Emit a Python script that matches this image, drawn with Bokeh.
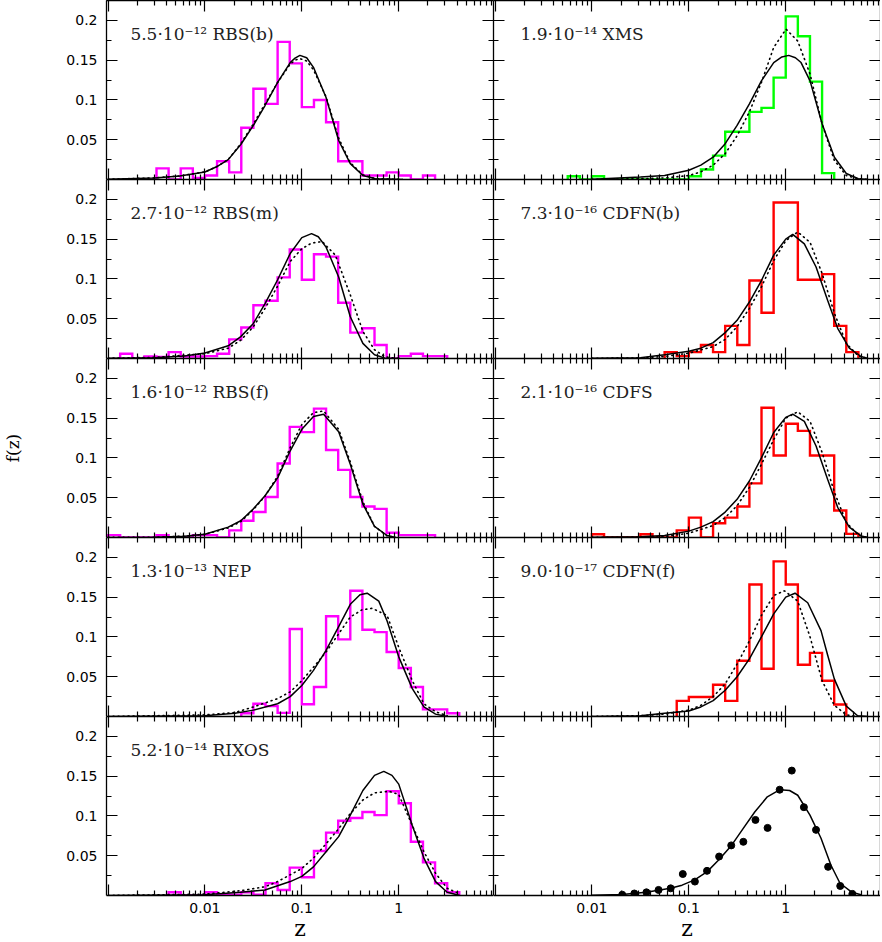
import numpy as np
from bokeh.plotting import figure
from bokeh.layouts import gridplot
from bokeh.models import (FixedTicker, LinearAxis, LogAxis, Label, Range1d,
                          CustomJSTickFormatter)
from bokeh.embed import file_html
from bokeh.resources import INLINE

# ---------------- data ----------------
BIN_DEX = 0.125          # histogram bin width in log10(z)

# Histograms: first bin lower edge (log10 z) and fraction per bin
rbsb_start = -2.5
rbsb_hist = [0.014, 0, 0.014, 0.002, 0.005, 0.023, 0.009, 0.065, 0.114, 0.095, 0.173,
             0.146, 0.091, 0.1, 0.072, 0.023, 0.023, 0.005, 0.005, 0.009, 0.005, 0, 0.005]
rbsm_start = -2.875
rbsm_hist = [0.006, 0, 0.0025, 0.002, 0.008, 0.0025, 0.0025, 0.003, 0.006, 0.024, 0.039,
             0.067, 0.0725, 0.102, 0.137, 0.099, 0.131, 0.128, 0.07, 0.0325, 0.038, 0.017,
             0, 0.003, 0.006, 0.003, 0.003]
rbsf_start = -3.0
rbsf_hist = [0.003, 0, 0, 0, 0.003, 0, 0, 0.003, 0.003, 0, 0.009, 0.021, 0.032, 0.051,
             0.093, 0.139, 0.1325, 0.162, 0.11, 0.085, 0.051, 0.039, 0.036, 0.006, 0.003,
             0.003, 0.003]
nep_start = -1.625
nep_hist = [0.004, 0.016, 0.013, 0.0046, 0.11, 0.0154, 0.037, 0.126, 0.097, 0.158, 0.109,
            0.106, 0.081, 0.061, 0.037, 0.009, 0.009, 0.004]
rixos_start = -2.375
rixos_hist = [0.004, 0, 0, 0.004, 0.001, 0.001, 0.004, 0.001, 0.0154, 0.007, 0.035, 0.023,
              0.056, 0.079, 0.094, 0.0975, 0.105, 0.101, 0.131, 0.116, 0.0675, 0.0417,
              0.0154, 0.004]
xms_start = -2.25
xms_hist = [0.004, 0, 0.004, 0, 0, 0, 0, 0, 0, 0, 0.004, 0.0125, 0.03, 0.06, 0.06, 0.085,
            0.09, 0.128, 0.205, 0.18, 0.123, 0.008]
cdfnb_start = -1.25
cdfnb_hist = [0.008, 0.003, 0.008, 0.017, 0.008, 0.041, 0.017, 0.098, 0.0575, 0.196, 0.196,
              0.099, 0.099, 0.106, 0.041, 0.008]
cdfs_start = -2.0
cdfs_hist = [0.004, 0, 0, 0, 0.004, 0, 0, 0.009, 0.025, 0, 0.018, 0.025, 0.039, 0.068,
             0.163, 0.103, 0.143, 0.134, 0.103, 0.103, 0.034, 0.0046]
cdfnf_start = -1.125
cdfnf_hist = [0.0196, 0.0246, 0.0246, 0.04, 0.0196, 0.07, 0.166, 0.06, 0.195, 0.166, 0.065,
              0.08, 0.045, 0.015]

# Model curves (log10 z, f) - solid and dotted
rbsb_solid_lz = [-3.0, -2.52, -2.26, -2.0, -1.88, -1.76, -1.63, -1.5, -1.38, -1.25, -1.12,
                 -1.07, -1.02, -0.95, -0.88, -0.75, -0.62, -0.5, -0.37, -0.24, 0.04]
rbsb_solid_f = [0.0003, 0.002, 0.0045, 0.0095, 0.016, 0.025, 0.044, 0.068, 0.093, 0.122,
                0.147, 0.1525, 0.156, 0.153, 0.141, 0.103, 0.049, 0.02, 0.005, 0.001, 0.0]
rbsb_dot_lz = [-3.0, -2.52, -2.26, -2.0, -1.88, -1.76, -1.63, -1.5, -1.38, -1.25, -1.12,
               -1.07, -1.02, -0.95, -0.88, -0.75, -0.62, -0.5, -0.37, -0.24, 0.04]
rbsb_dot_f = [0.0003, 0.002, 0.0045, 0.0095, 0.016, 0.025, 0.045, 0.07, 0.095, 0.122, 0.145,
              0.15, 0.152, 0.149, 0.138, 0.104, 0.052, 0.021, 0.006, 0.001, 0.0]

rbsm_solid_lz = [-3.0, -2.52, -2.21, -2.0, -1.76, -1.63, -1.5, -1.38, -1.25, -1.12, -1.0,
                 -0.9, -0.83, -0.75, -0.62, -0.5, -0.37, -0.25, -0.14, 0.0]
rbsm_solid_f = [0.0003, 0.001, 0.003, 0.007, 0.016, 0.0275, 0.044, 0.069, 0.099, 0.132,
                0.152, 0.157, 0.153, 0.14, 0.1025, 0.0525, 0.019, 0.0046, 0.0004, 0.0]
rbsm_dot_lz = [-3.0, -2.5, -2.0, -1.76, -1.63, -1.5, -1.38, -1.25, -1.12, -1.0, -0.9, -0.79,
               -0.655, -0.5, -0.37, -0.25, -0.14, 0.0]
rbsm_dot_f = [0.0003, 0.0015, 0.006, 0.013, 0.023, 0.04, 0.063, 0.091, 0.122, 0.138, 0.145,
              0.147, 0.13, 0.08, 0.034, 0.011, 0.002, 0.0]

rbsf_solid_lz = [-3.0, -2.52, -2.21, -2.0, -1.76, -1.63, -1.5, -1.38, -1.25, -1.12, -1.0,
                 -0.88, -0.775, -0.62, -0.5, -0.37, -0.25, -0.12, -0.03]
rbsf_solid_f = [0.0001, 0.0004, 0.0017, 0.004, 0.013, 0.021, 0.036, 0.0525, 0.075, 0.109,
                0.136, 0.152, 0.155, 0.133, 0.092, 0.042, 0.014, 0.0025, 0.0]
rbsf_dot_lz = [-3.0, -2.52, -2.21, -2.0, -1.76, -1.63, -1.5, -1.38, -1.25, -1.12, -1.0,
               -0.88, -0.775, -0.62, -0.5, -0.37, -0.25, -0.12, -0.03]
rbsf_dot_f = [0.0001, 0.0004, 0.0017, 0.004, 0.012, 0.02, 0.035, 0.052, 0.077, 0.113, 0.142,
              0.157, 0.159, 0.136, 0.095, 0.045, 0.014, 0.002, 0.0]

nep_solid_lz = [-3.0, -2.0, -1.69, -1.5, -1.25, -1.12, -1.0, -0.88, -0.75, -0.62, -0.5,
                -0.4, -0.326, -0.206, -0.12, 0.0, 0.14, 0.26, 0.38, 0.5]
nep_solid_f = [0.0, 0.001, 0.004, 0.008, 0.016, 0.025, 0.039, 0.058, 0.083, 0.113, 0.141,
               0.153, 0.155, 0.145, 0.12, 0.075, 0.035, 0.012, 0.003, 0.0]
nep_dot_lz = [-3.0, -2.0, -1.69, -1.5, -1.25, -1.12, -1.0, -0.88, -0.75, -0.62, -0.5, -0.38,
              -0.275, -0.12, 0.0, 0.14, 0.26, 0.38, 0.5]
nep_dot_f = [0.0, 0.002, 0.005, 0.012, 0.0225, 0.031, 0.045, 0.062, 0.081, 0.104, 0.125,
             0.134, 0.136, 0.127, 0.087, 0.045, 0.016, 0.006, 0.001]

rixos_solid_lz = [-3.0, -2.0, -1.63, -1.38, -1.12, -1.0, -0.88, -0.75, -0.62, -0.5, -0.37,
                  -0.25, -0.154, -0.07, 0.0, 0.14, 0.26, 0.38, 0.5, 0.63]
rixos_solid_f = [0.0, 0.001, 0.004, 0.007, 0.0175, 0.024, 0.036, 0.055, 0.074, 0.101, 0.132,
                 0.151, 0.156, 0.151, 0.14, 0.088, 0.047, 0.0175, 0.004, 0.0]
rixos_dot_lz = [-3.0, -2.0, -1.63, -1.38, -1.25, -1.12, -1.0, -0.88, -0.75, -0.62, -0.5,
                -0.37, -0.25, -0.10, 0.0, 0.14, 0.26, 0.38, 0.5, 0.63]
rixos_dot_f = [0.0, 0.0017, 0.006, 0.011, 0.0175, 0.026, 0.034, 0.047, 0.065, 0.084, 0.103,
               0.12, 0.129, 0.131, 0.127, 0.088, 0.055, 0.028, 0.009, 0.002]

xms_solid_lz = [-2.0, -1.5, -1.25, -1.0, -0.876, -0.749, -0.625, -0.502, -0.375, -0.251,
                -0.124, -0.04, 0.031, 0.1, 0.158, 0.251, 0.375, 0.502, 0.625, 0.749, 0.85]
xms_solid_f = [0.0004, 0.003, 0.005, 0.0117, 0.018, 0.028, 0.045, 0.068, 0.095, 0.124,
               0.147, 0.154, 0.156, 0.153, 0.147, 0.124, 0.07, 0.028, 0.0075, 0.001, 0.0]
xms_dot_lz = [-2.0, -1.5, -1.25, -1.0, -0.876, -0.749, -0.625, -0.502, -0.375, -0.251,
              -0.124, 0.003, 0.124, 0.251, 0.375, 0.502, 0.625, 0.749, 0.85]
xms_dot_f = [0.0002, 0.001, 0.002, 0.005, 0.0096, 0.018, 0.0325, 0.055, 0.085, 0.122, 0.166,
             0.189, 0.174, 0.1325, 0.07, 0.024, 0.005, 0.001, 0.0]

cdfnb_solid_lz = [-2.0, -1.5, -1.25, -1.0, -0.876, -0.749, -0.625, -0.502, -0.375, -0.251,
                  -0.124, 0.0, 0.072, 0.192, 0.313, 0.433, 0.536, 0.656, 0.777, 0.85]
cdfnb_solid_f = [0.0003, 0.001, 0.0046, 0.009, 0.013, 0.02, 0.0325, 0.048, 0.071, 0.098,
                 0.13, 0.15, 0.156, 0.144, 0.115, 0.073, 0.038, 0.013, 0.0025, 0.0]
cdfnb_dot_lz = [-2.0, -1.5, -1.25, -1.0, -0.749, -0.625, -0.502, -0.375, -0.251, -0.124,
                0.0, 0.124, 0.251, 0.375, 0.502, 0.625, 0.749, 0.85]
cdfnb_dot_f = [0.0002, 0.0008, 0.0025, 0.0067, 0.015, 0.024, 0.04, 0.063, 0.09, 0.123,
               0.148, 0.159, 0.146, 0.107, 0.057, 0.019, 0.003, 0.0]

cdfs_solid_lz = [-2.0, -1.5, -1.25, -1.0, -0.876, -0.749, -0.625, -0.502, -0.375, -0.251,
                 -0.124, 0.0, 0.072, 0.192, 0.313, 0.433, 0.536, 0.656, 0.777, 0.85]
cdfs_solid_f = [0.0002, 0.001, 0.0025, 0.008, 0.013, 0.02, 0.032, 0.048, 0.071, 0.1, 0.132,
                0.151, 0.155, 0.146, 0.115, 0.073, 0.038, 0.013, 0.002, 0.0]
cdfs_dot_lz = [-2.0, -1.5, -1.25, -1.0, -0.749, -0.625, -0.502, -0.375, -0.251, -0.124, 0.0,
               0.124, 0.251, 0.375, 0.502, 0.625, 0.749, 0.85]
cdfs_dot_f = [0.0001, 0.0005, 0.0012, 0.0054, 0.015, 0.025, 0.04, 0.063, 0.092, 0.123, 0.15,
              0.158, 0.146, 0.107, 0.057, 0.019, 0.003, 0.0]

cdfnf_solid_lz = [-2.0, -1.5, -1.25, -1.0, -0.876, -0.749, -0.625, -0.502, -0.375, -0.251,
                  -0.124, 0.0, 0.096, 0.227, 0.364, 0.433, 0.502, 0.625, 0.742, 0.85]
cdfnf_solid_f = [0.0, 0.001, 0.004, 0.007, 0.012, 0.02, 0.033, 0.05, 0.0725, 0.1, 0.129,
                 0.15, 0.155, 0.143, 0.108, 0.077, 0.047, 0.013, 0.001, 0.0]
cdfnf_dot_lz = [-2.0, -1.5, -1.25, -1.0, -0.876, -0.749, -0.625, -0.502, -0.375, -0.251,
                -0.124, -0.014, 0.124, 0.251, 0.375, 0.502, 0.625, 0.75]
cdfnf_dot_f = [0.0, 0.001, 0.003, 0.008, 0.014, 0.025, 0.041, 0.066, 0.095, 0.127, 0.152,
               0.158, 0.145, 0.1, 0.045, 0.014, 0.002, 0.0]

# Combined panel: points and model
all_pts_lz = [-1.6875, -1.5625, -1.4375, -1.3125, -1.1875, -1.0625, -0.9375, -0.8125,
              -0.6875, -0.5625, -0.4375, -0.3125, -0.1875, -0.0625, 0.0625, 0.1875, 0.3125,
              0.4375, 0.5625, 0.6875]
all_pts_f = [0.001, 0.0025, 0.004, 0.007, 0.009, 0.027, 0.0175, 0.031, 0.049, 0.063, 0.0675,
             0.095, 0.085, 0.133, 0.157, 0.111, 0.0825, 0.036, 0.012, 0.002]
all_solid_lz = [-2.0, -1.69, -1.44, -1.19, -1.07, -0.94, -0.81, -0.69, -0.56, -0.44, -0.32,
                -0.19, -0.06, 0.04, 0.124, 0.25, 0.364, 0.467, 0.56, 0.684, 0.777]
all_solid_f = [0.0004, 0.0012, 0.004, 0.009, 0.013, 0.0196, 0.03, 0.045, 0.063, 0.084, 0.105,
               0.124, 0.133, 0.132, 0.126, 0.101, 0.072, 0.038, 0.0154, 0.004, 0.001]

labels = ["5.5·10⁻¹² RBS(b)", "1.9·10⁻¹⁴ XMS",
          "2.7·10⁻¹² RBS(m)", "7.3·10⁻¹⁶ CDFN(b)",
          "1.6·10⁻¹² RBS(f)", "2.1·10⁻¹⁶ CDFS",
          "1.3·10⁻¹³ NEP", "9.0·10⁻¹⁷ CDFN(f)",
          "5.2·10⁻¹⁴ RIXOS", ""]

MAGENTA, GREEN, RED = "#ff00ff", "#00ff00", "#ff0000"

panels = [
    (rbsb_start, rbsb_hist, MAGENTA, rbsb_solid_lz, rbsb_solid_f, rbsb_dot_lz, rbsb_dot_f),
    (xms_start, xms_hist, GREEN, xms_solid_lz, xms_solid_f, xms_dot_lz, xms_dot_f),
    (rbsm_start, rbsm_hist, MAGENTA, rbsm_solid_lz, rbsm_solid_f, rbsm_dot_lz, rbsm_dot_f),
    (cdfnb_start, cdfnb_hist, RED, cdfnb_solid_lz, cdfnb_solid_f, cdfnb_dot_lz, cdfnb_dot_f),
    (rbsf_start, rbsf_hist, MAGENTA, rbsf_solid_lz, rbsf_solid_f, rbsf_dot_lz, rbsf_dot_f),
    (cdfs_start, cdfs_hist, RED, cdfs_solid_lz, cdfs_solid_f, cdfs_dot_lz, cdfs_dot_f),
    (nep_start, nep_hist, MAGENTA, nep_solid_lz, nep_solid_f, nep_dot_lz, nep_dot_f),
    (cdfnf_start, cdfnf_hist, RED, cdfnf_solid_lz, cdfnf_solid_f, cdfnf_dot_lz, cdfnf_dot_f),
    (rixos_start, rixos_hist, MAGENTA, rixos_solid_lz, rixos_solid_f, rixos_dot_lz, rixos_dot_f),
    None,
]

# ---------------- layout / style ----------------
FW, FH = 387, 179
XR = (10 ** -3.016, 10 ** 0.978)
YR = (0, 0.225)
X_MAJOR = [0.001, 0.01, 0.1, 1.0, 10.0]
X_MINOR = [m * 10.0 ** d for d in range(-3, 1) for m in range(2, 10)]
Y_MAJOR = [0.05, 0.1, 0.15, 0.2]
Y_MINOR = [0.025, 0.075, 0.125, 0.175, 0.225]
SANS = "DejaVu Sans"
SERIF = "DejaVu Serif"


def style_axis(ax, labeled):
    ax.major_tick_in = 11
    ax.major_tick_out = 0
    ax.minor_tick_in = 5
    ax.minor_tick_out = 0
    ax.major_tick_line_color = "black"
    ax.minor_tick_line_color = "black"
    ax.major_tick_line_width = 1.2
    ax.minor_tick_line_width = 1.2
    ax.axis_line_color = "black"
    ax.axis_line_width = 1.3
    if labeled:
        ax.formatter = CustomJSTickFormatter(
            code="return (tick < 0.005 || tick > 5) ? '' : String(tick)")
        ax.major_label_text_font = SANS
        ax.major_label_text_font_size = "14px"
        ax.major_label_text_color = "black"
        ax.major_label_standoff = 9
    else:
        ax.formatter = CustomJSTickFormatter(code="return ''")
        ax.major_label_text_font_size = "0px"
        ax.major_label_standoff = 0


def hist_xy(start, vals):
    edges = 10.0 ** (start + BIN_DEX * np.arange(len(vals) + 1))
    xs = np.repeat(edges, 2)
    ys = np.concatenate([[0.0], np.repeat(np.asarray(vals, dtype=float), 2), [0.0]])
    return xs, ys


figs = []
for i in range(10):
    row, col = divmod(i, 2)
    left = col == 0
    bottom = row == 4
    p = figure(frame_width=FW, frame_height=FH, x_axis_type="log",
               x_range=Range1d(*XR), y_range=Range1d(*YR),
               x_axis_location=None, y_axis_location=None,
               output_backend="svg", toolbar_location=None,
               min_border_left=106 if left else 0,
               min_border_right=0,
               min_border_top=0, min_border_bottom=46 if bottom else 0,
               background_fill_color="white", border_fill_color="white",
               outline_line_color=None)
    p.xgrid.visible = False
    p.ygrid.visible = False

    for loc in ("below", "above"):
        ax = LogAxis(ticker=FixedTicker(ticks=X_MAJOR, minor_ticks=X_MINOR))
        lab = loc == "below" and bottom
        style_axis(ax, lab)
        if lab:
            ax.major_label_standoff = 7
            ax.axis_label = "z"
            ax.axis_label_text_font = SERIF
            ax.axis_label_text_font_style = "normal"
            ax.axis_label_text_font_size = "22px"
            ax.axis_label_text_color = "black"
            ax.axis_label_standoff = 0
        p.add_layout(ax, loc)
    for loc in ("left", "right"):
        ax = LinearAxis(ticker=FixedTicker(ticks=Y_MAJOR, minor_ticks=Y_MINOR))
        lab = loc == "left" and left
        style_axis(ax, lab)
        if lab and i == 4:
            ax.axis_label = "f(z)"
            ax.axis_label_orientation = "parallel"
            ax.axis_label_text_font = SERIF
            ax.axis_label_text_font_style = "normal"
            ax.axis_label_text_font_size = "17px"
            ax.axis_label_text_color = "black"
            ax.axis_label_standoff = 40
        p.add_layout(ax, loc)

    pan = panels[i]
    if pan is not None:
        start, hv, color, slz, sf, dlz, df = pan
        hx, hy = hist_xy(start, hv)
        p.line(hx, hy, line_color=color, line_width=2.4, line_join="miter")
        p.line(10.0 ** np.asarray(slz), sf, line_color="black", line_width=1.5)
        p.line(10.0 ** np.asarray(dlz), df, line_color="black", line_width=1.6,
               line_dash="1 4", line_cap="round")
    else:
        p.line(10.0 ** np.asarray(all_solid_lz), all_solid_f, line_color="black", line_width=1.5)
        p.scatter(10.0 ** np.asarray(all_pts_lz), all_pts_f, size=7, color="black")

    if labels[i]:
        lx = 0.0017 if left else 0.00183
        p.add_layout(Label(x=lx, y=0.183, text=labels[i], text_font=SERIF,
                           text_font_size="17px", text_color="#222222",
                           text_baseline="middle", text_align="left"))
    figs.append(p)

grid = gridplot([figs[0:2], figs[2:4], figs[4:6], figs[6:8], figs[8:10]],
                toolbar_location=None)

open("out.html", "w").write(file_html(grid, INLINE))
